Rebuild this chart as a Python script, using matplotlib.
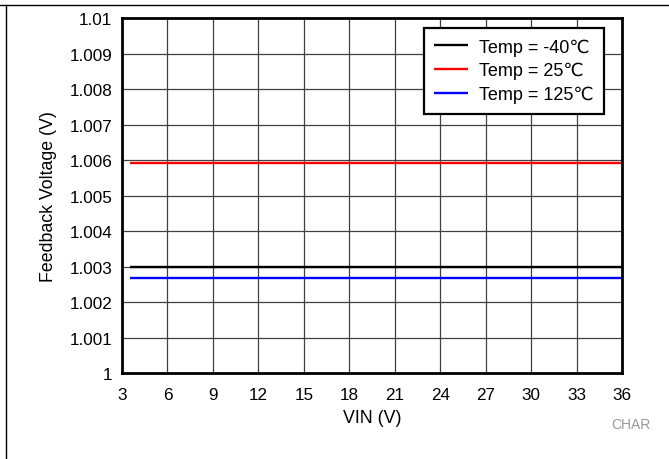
import matplotlib
matplotlib.use('Agg')
import matplotlib.pyplot as plt
from matplotlib.lines import Line2D

plt.rcParams['font.family'] = ['Liberation Sans', 'DejaVu Sans']

# data
vin = [3.5, 36]
vfb_m40 = [1.00299, 1.00299]
vfb_25 = [1.00591, 1.00591]
vfb_125 = [1.00268, 1.00268]
labels = ['Temp = -40\u2103', 'Temp = 25\u2103', 'Temp = 125\u2103']
colors = ['black', 'red', 'blue']
xticks = list(range(3, 37, 3))
yticks = [1 + i * 0.001 for i in range(11)]

fig = plt.figure(figsize=(6.69, 4.6), dpi=100)
ax = fig.add_axes([122 / 669, 1 - 374 / 460, 500 / 669, 355 / 460])

for y, lab, c in zip([vfb_m40, vfb_25, vfb_125], labels, colors):
    ax.plot(vin, y, color=c, lw=1.7, label=lab, solid_capstyle='butt')

ax.set_xlim(3, 36)
ax.set_ylim(1, 1.01)
ax.set_xticks(xticks)
ax.set_yticks(yticks)
ax.set_yticklabels(['1'] + ['%g' % round(v, 3) for v in yticks[1:]])
ax.grid(True, color='#404040', lw=0.9)
ax.set_axisbelow(True)
ax.tick_params(length=0, labelsize=12.3)
ax.tick_params(axis='x', pad=10)
ax.tick_params(axis='y', pad=7)
for s in ax.spines.values():
    s.set_linewidth(2)
ax.set_xlabel('VIN (V)', fontsize=12.8, labelpad=5)
ax.set_ylabel('Feedback Voltage (V)', fontsize=12.8, labelpad=9)

leg = ax.legend(loc='upper right', bbox_to_anchor=(0.964, 0.972), borderaxespad=0,
                fontsize=13, fancybox=False, framealpha=1, edgecolor='black',
                handlelength=1.88, handletextpad=0.6, borderpad=0.57,
                labelspacing=0.36)
leg.get_frame().set_linewidth(1.6)

fig.text(650 / 669, 1 - 425 / 460, 'CHAR', fontsize=10, color='#999999',
         ha='right', va='center')

# border lines of the frame
fig.add_artist(Line2D([6 / 669, 6 / 669], [0, 1 - 6 / 460], color='black', lw=1,
                      transform=fig.transFigure))
fig.add_artist(Line2D([0, 1], [1 - 6 / 460, 1 - 6 / 460], color='black', lw=1,
                      transform=fig.transFigure))

fig.savefig('out.png', dpi=100)
